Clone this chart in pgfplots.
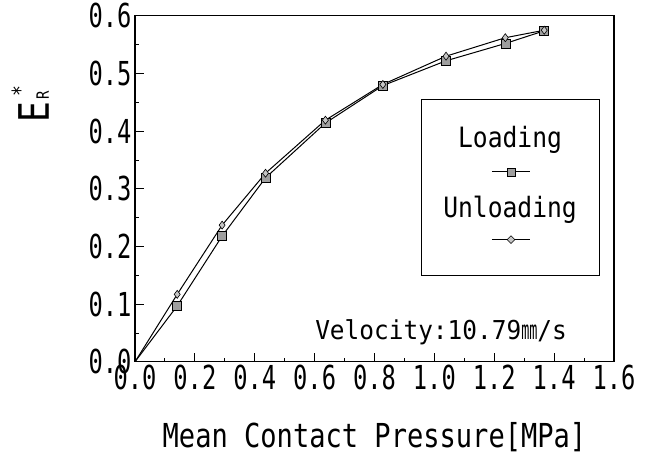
\documentclass[border=0pt]{standalone}
\usepackage{fontspec}
\setmainfont{DejaVu Sans Mono}
\newfontfamily\tickfont[FakeStretch=0.72]{DejaVu Sans Mono}
\newfontfamily\labfont[FakeStretch=0.82]{DejaVu Sans Mono}
\newfontfamily\legfont[FakeStretch=0.88]{DejaVu Sans Mono}
\newfontfamily\velfont[FakeStretch=0.94]{DejaVu Sans Mono}
\usepackage{pgfplots}
\pgfplotsset{compat=1.18}
\usetikzlibrary{shapes.geometric}

\begin{document}
\begin{tikzpicture}
\begin{axis}[
    width=479pt, height=346pt, scale only axis,
    xmin=0, xmax=1.6, ymin=0, ymax=0.6,
    xtick={0,0.2,0.4,0.6,0.8,1.0,1.2,1.4,1.6},
    ytick={0,0.1,0.2,0.3,0.4,0.5,0.6},
    minor x tick num=1, minor y tick num=1,
    tick align=inside, tick pos=left,
    major tick length=9pt, minor tick length=4pt,
    tick style={black, line width=0.9pt},
    axis line style={line width=1.1pt},
    /pgf/number format/assume math mode=true,
    ticklabel style={font=\tickfont\fontsize{33}{33}\selectfont},
    xticklabel style={/pgf/number format/.cd, fixed, fixed zerofill, precision=1},
    yticklabel style={/pgf/number format/.cd, fixed, fixed zerofill, precision=1},
    xlabel={Mean Contact Pressure[MPa]},
    xlabel style={font=\labfont\fontsize{33}{33}\selectfont, at={(axis description cs:0.5,-0.217)}, anchor=center},
    ylabel={{\fontsize{42}{42}\selectfont E}\kern2pt{\fontsize{17}{17}\selectfont R}\kern-5pt\raisebox{21pt}{\fontsize{22}{22}\selectfont *}},
    ylabel style={font=\labfont, at={(axis description cs:-0.219,0.745)}, anchor=center},
]
% Loading
\addplot[black, line width=1pt, mark=square*, mark size=4.5pt, mark indices={2,...,9},
         mark options={fill=gray!75, draw=black, line width=0.6pt}]
  coordinates {(0,0) (0.141,0.097) (0.291,0.218) (0.436,0.319) (0.636,0.414)
               (0.828,0.479) (1.039,0.522) (1.237,0.552) (1.367,0.574)};
% Unloading
\addplot[black, line width=1pt, mark=diamond*, mark size=4pt, mark indices={2,...,9},
         mark options={fill=gray!45, draw=black, line width=0.6pt}]
  coordinates {(0,0) (0.141,0.117) (0.291,0.237) (0.436,0.327) (0.636,0.419)
               (0.828,0.481) (1.039,0.530) (1.237,0.562) (1.367,0.575)};

% legend
\draw[line width=0.9pt] (axis description cs:0.599,0.249) rectangle (axis description cs:0.969,0.757);
\node[font=\legfont\fontsize{28}{28}\selectfont] at (axis description cs:0.783,0.642) {Loading};
\draw[line width=1pt] (axis description cs:0.745,0.549) -- (axis description cs:0.825,0.549);
\node[draw=black, fill=gray!75, minimum size=8pt, inner sep=0pt, line width=0.6pt] at (axis description cs:0.785,0.549) {};
\node[font=\legfont\fontsize{28}{28}\selectfont] at (axis description cs:0.783,0.439) {Unloading};
\draw[line width=1pt] (axis description cs:0.745,0.353) -- (axis description cs:0.825,0.353);
\node[draw=black, fill=gray!45, diamond, minimum size=8pt, inner sep=0pt, line width=0.6pt] at (axis description cs:0.785,0.353) {};

\node[font=\velfont\fontsize{26}{26}\selectfont] at (axis description cs:0.639,0.084)
  {Velocity:10.79\scalebox{0.55}[1]{mm}/s};
\end{axis}
\path (-135pt,-92pt) rectangle (511pt,360pt);
\end{tikzpicture}
\end{document}
